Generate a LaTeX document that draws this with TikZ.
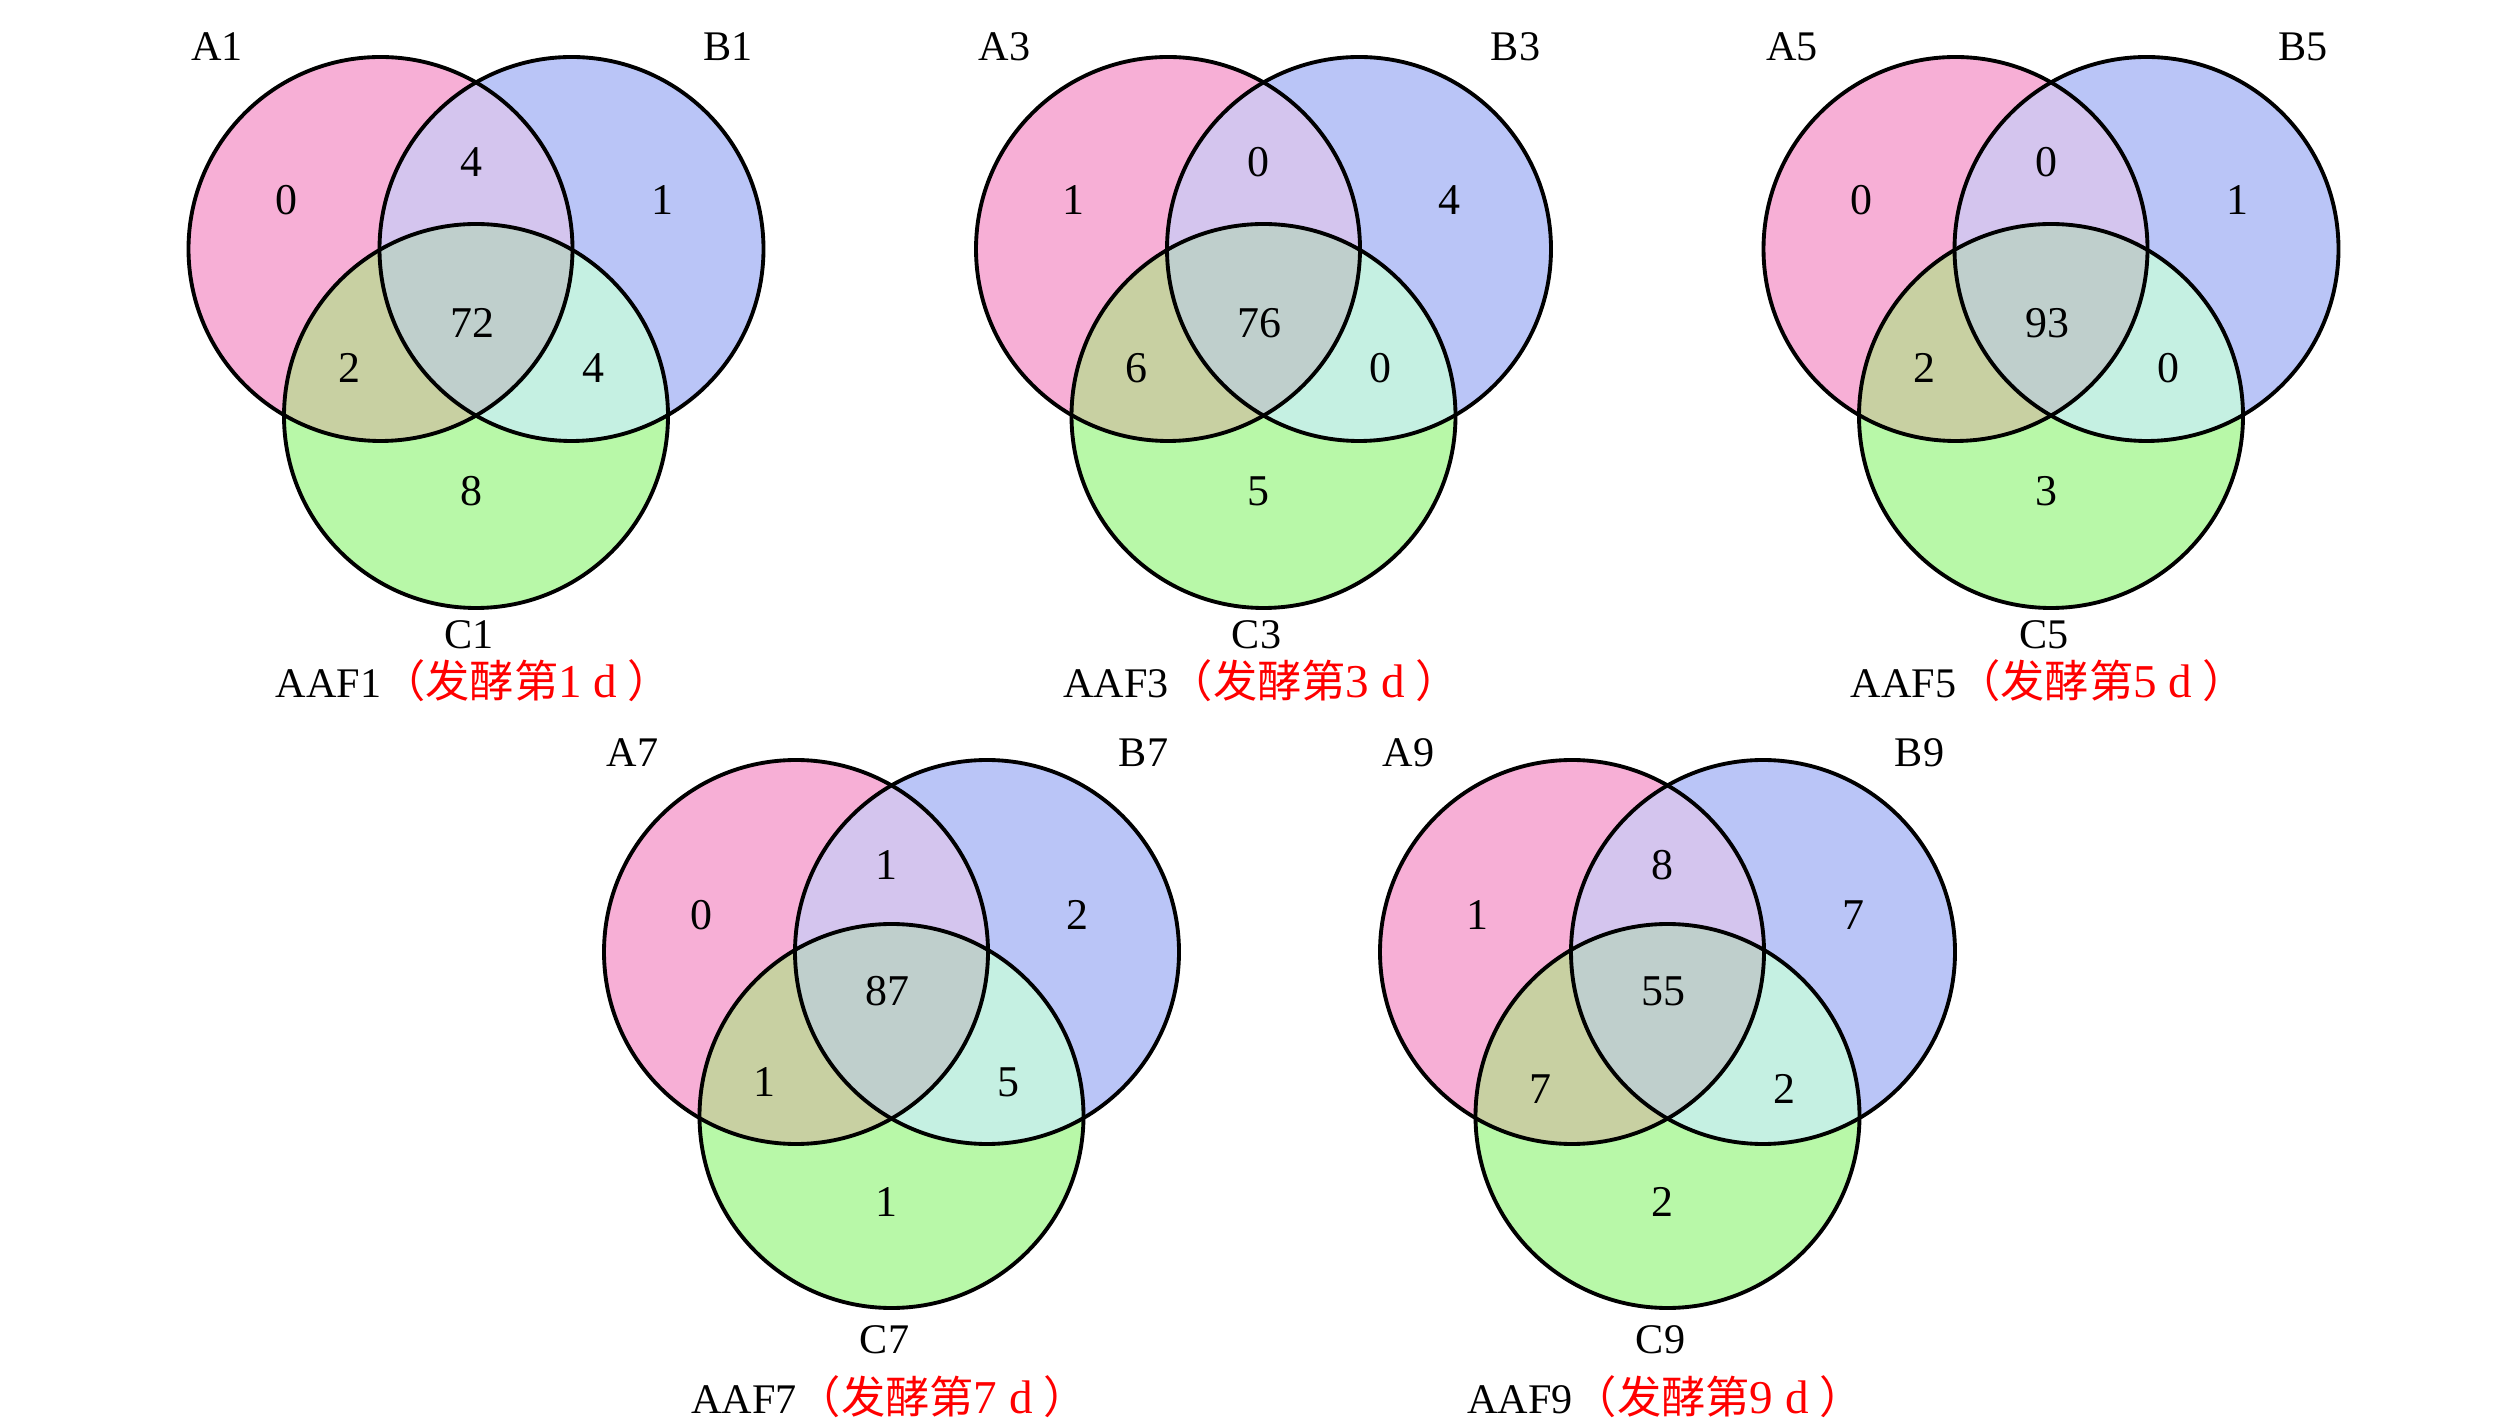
\documentclass[tikz,border=0pt]{standalone}
\usepackage{fontspec}
\setmainfont{Liberation Serif}
\newfontfamily\cjk[Scale=1.05]{Noto Sans CJK SC}
\usepackage{xcolor}
\usepackage{tikz}
\usetikzlibrary{positioning}
\usetikzlibrary{calc}

\definecolor{fillA}{RGB}{247,175,214}
\definecolor{fillB}{RGB}{186,197,247}
\definecolor{fillC}{RGB}{184,248,168}
\definecolor{fillAB}{RGB}{212,197,238}
\definecolor{fillAC}{RGB}{200,208,162}
\definecolor{fillBC}{RGB}{197,240,226}
\definecolor{fillABC}{RGB}{191,207,204}

\tikzset{
  ring/.style={draw=black,line width=1.1pt},
  setlabel/.style={inner sep=0pt,font=\fontsize{12}{14}\selectfont},
  count/.style={inner sep=0pt,font=\fontsize{12.5}{14}\selectfont},
}

\begin{document}
\begin{tikzpicture}[x=1.0cm,y=1.0cm]
\useasboundingbox (0,0) rectangle (25.2,-14.24);
\foreach \ox/\oy/\sd/\na/\nab/\nb/\nabc/\nac/\nbc/\nc/\dy/\ya/\dm/\dl/\dc/\ly/\lc/\dcap in {
  4.76/-2.49/1/0/4/1/72/2/4/8/1.67/0.49/0.74/1.19/2.42/2.02/3.86/4.32,
  12.635/-2.49/3/1/0/4/76/6/0/5/1.67/0.49/0.74/1.19/2.42/2.02/3.86/4.32,
  20.51/-2.49/5/0/0/1/93/2/0/3/1.67/0.49/0.74/1.19/2.42/2.02/3.86/4.32,
  8.915/-9.52/7/0/1/2/87/1/5/1/1.64/0.37/0.39/1.30/2.50/1.99/3.88/4.45,
  16.675/-9.52/9/1/8/7/55/7/2/2/1.64/0.37/0.39/1.37/2.50/1.99/3.88/4.45}
{
\begin{scope}[shift={(\ox,\oy)}]
\coordinate (A\sd) at (-0.955,0);
\coordinate (B\sd) at (0.955,0);
\coordinate (C\sd) at (0,-\dy);
\fill[fillA] (A\sd) circle (1.92);
\fill[fillB] (B\sd) circle (1.92);
\fill[fillC] (C\sd) circle (1.92);
\begin{scope}
\clip (A\sd) circle (1.92);
\fill[fillAB] (B\sd) circle (1.92);
\fill[fillAC] (C\sd) circle (1.92);
\end{scope}
\begin{scope}
\clip (B\sd) circle (1.92);
\fill[fillBC] (C\sd) circle (1.92);
\end{scope}
\begin{scope}
\clip (A\sd) circle (1.92);
\clip (B\sd) circle (1.92);
\fill[fillABC] (C\sd) circle (1.92);
\end{scope}
\draw[ring] (A\sd) circle (1.92);
\draw[ring] (B\sd) circle (1.92);
\draw[ring] (C\sd) circle (1.92);
\node[setlabel] (la\sd) at (-2.59,\ly) {A\sd};
\node[setlabel] (lb\sd) at (2.52,\ly) {B\sd};
\node[setlabel] (lc\sd) at (-0.07,-\lc) {C\sd};
\node[count] (na\sd) at (-1.90,\ya) {\na};
\node[count] (nab\sd) at (-0.05,0.87) {\nab};
\node[count] (nb\sd) at (1.86,\ya) {\nb};
\node[count] (nabc\sd) at (-0.04,-\dm) {\nabc};
\node[count] (nac\sd) at (-1.27,-\dl) {\nac};
\node[count] (nbc\sd) at (1.17,-\dl) {\nbc};
\node[count] (nc\sd) at (-0.05,-\dc) {\nc};
\node[setlabel] (cap\sd) at (-0.02,-\dcap) {AAF\sd\textcolor{red}{{\cjk （发酵第}{\fontsize{13.4}{15}\selectfont\sd\ d}\hspace{3pt}{\cjk ）}}};
\end{scope}
}
\end{tikzpicture}
\end{document}
